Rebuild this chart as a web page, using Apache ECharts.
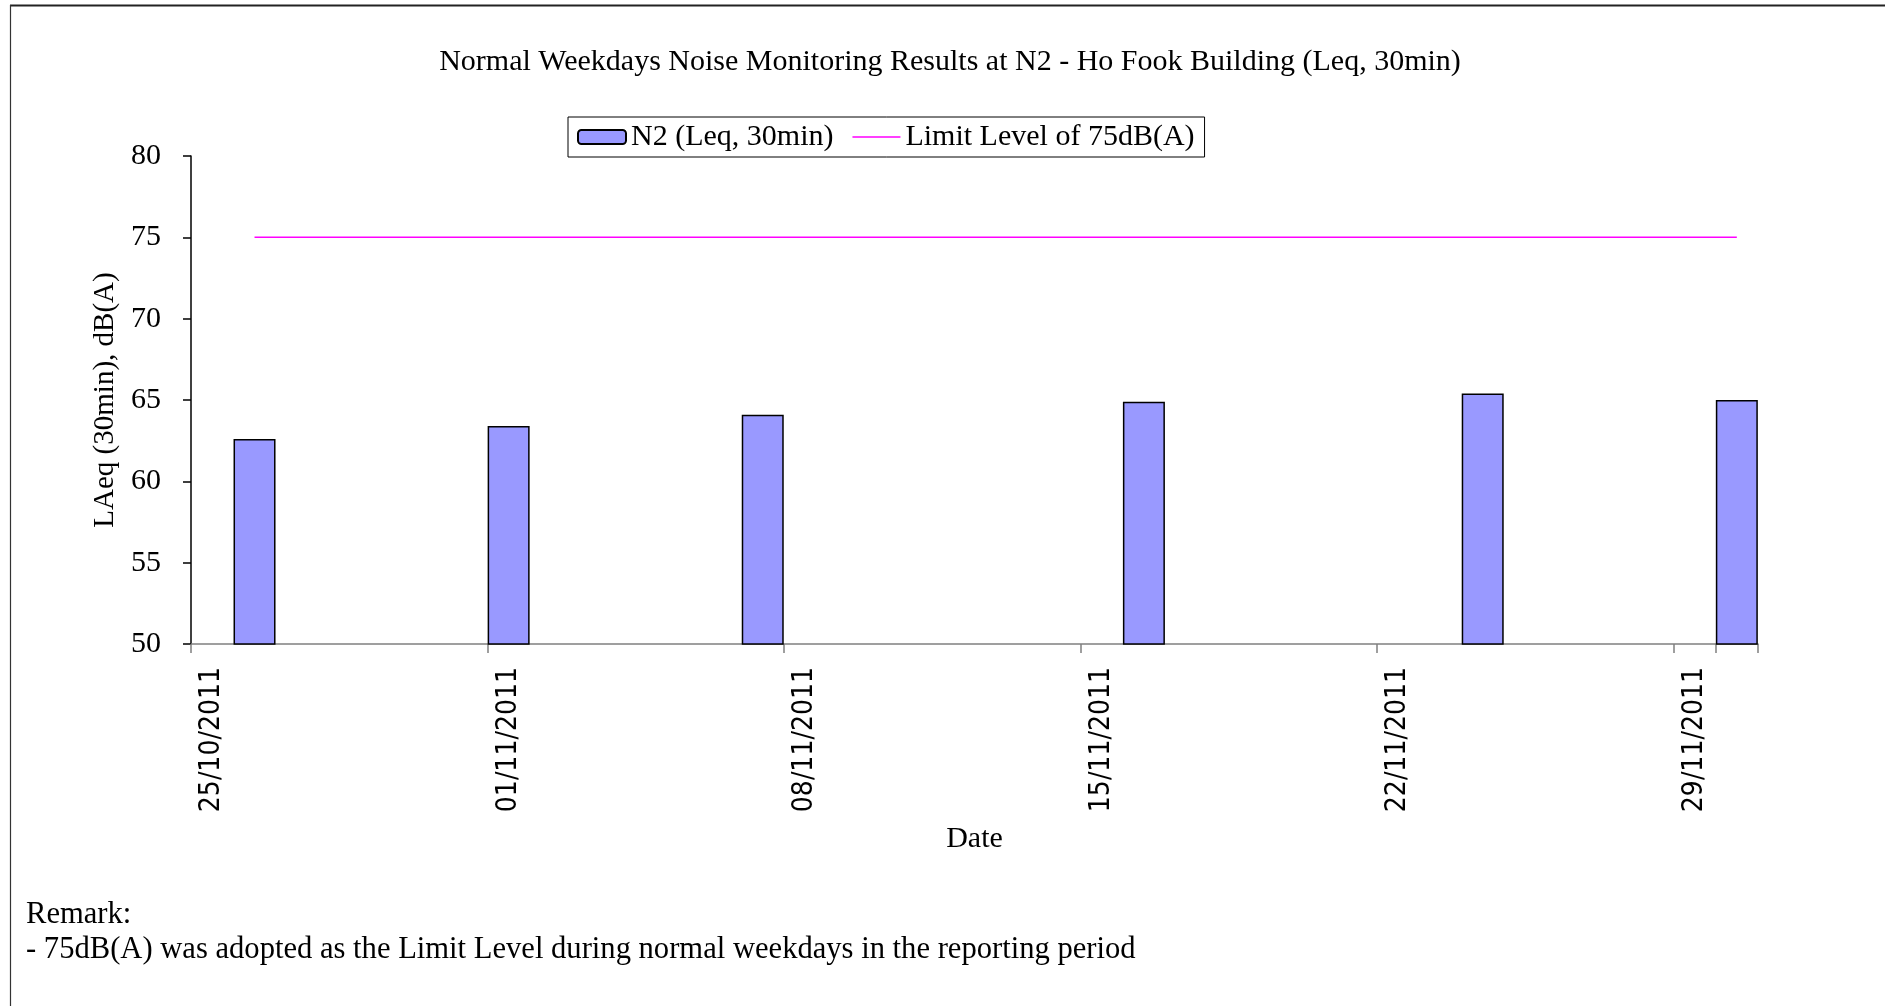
<!DOCTYPE html>
<html>
<head>
<meta charset="utf-8">
<script src="https://cdn.jsdelivr.net/npm/echarts@6/dist/echarts.min.js"></script>
<style>
html,body{margin:0;padding:0;background:#fff;}
#chart{width:1885px;height:1006px;}
</style>
</head>
<body>
<div id="chart"></div>
<script>
// ---- data ----
var titleText = 'Normal Weekdays Noise Monitoring Results at N2 - Ho Fook Building (Leq, 30min)';
var seriesBarName = 'N2 (Leq, 30min)';
var seriesLimitName = 'Limit Level of 75dB(A)';
var dates = ['26/10/2011', '01/11/2011', '07/11/2011', '16/11/2011', '24/11/2011', '30/11/2011'];
var values = [62.6, 63.4, 64.1, 64.9, 65.4, 65.0];
var limitValues = [75, 75, 75, 75, 75, 75];
var tickLabels = ['25/10/2011', '01/11/2011', '08/11/2011', '15/11/2011', '22/11/2011', '29/11/2011'];
var axisStart = [2011, 9, 25];   // 25/10/2011
var axisDays = 37;               // through 30/11/2011
var yTicks = [50, 55, 60, 65, 70, 75, 80];
var remarkLines = ['Remark:', '- 75dB(A) was adopted as the Limit Level during normal weekdays in the reporting period'];

// ---- build day categories for the date axis ----
function pad(n){ return (n < 10 ? '0' : '') + n; }
var dayCats = [];
for (var i = 0; i < axisDays; i++) {
  var d = new Date(axisStart[0], axisStart[1], axisStart[2] + i);
  dayCats.push(pad(d.getDate()) + '/' + pad(d.getMonth() + 1) + '/' + d.getFullYear());
}
var barData = dates.map(function (d, i) { return [d, values[i]]; });
var limitData = dates.map(function (d, i) { return [d, limitValues[i]]; });

var SERIF = "'Liberation Serif', 'Times New Roman', serif";
var SANS = "'DejaVu Sans Condensed', 'DejaVu Sans', sans-serif";
// thin horizontal line legend icon (tiny corner dots keep the 48x14 box)
var LINE_ICON = 'path://M0,0h0.01v0.01h-0.01Z M47.99,13.99h0.01v0.01h-0.01Z M0,6.25H48V7.75H0Z';

var chart = echarts.init(document.getElementById('chart'), null, {renderer: 'canvas'});
chart.setOption({
  animation: false,
  backgroundColor: '#ffffff',
  graphic: [
    {type: 'line', shape: {x1: 10, y1: 5.5, x2: 1885, y2: 5.5}, style: {stroke: '#222', lineWidth: 2}},
    {type: 'line', shape: {x1: 10.5, y1: 5, x2: 10.5, y2: 1006}, style: {stroke: '#333', lineWidth: 1.2}},
    {type: 'text', x: 950, y: 62, style: {text: titleText, font: '30px ' + SERIF, fill: '#000', align: 'center', verticalAlign: 'middle'}},
    {type: 'text', x: 26, y: 915, style: {text: remarkLines[0], font: '30.6px ' + SERIF, fill: '#000', align: 'left', verticalAlign: 'middle'}},
    {type: 'text', x: 26, y: 950, style: {text: remarkLines[1], font: '30.6px ' + SERIF, fill: '#000', align: 'left', verticalAlign: 'middle'}}
  ],
  legend: {
    left: 568, top: 117,
    orient: 'horizontal',
    padding: [5, 10, 5, 9],
    borderColor: '#000', borderWidth: 1,
    backgroundColor: '#fff',
    itemGap: 19, itemWidth: 48, itemHeight: 14,
    textStyle: {fontFamily: SERIF, fontSize: 30, color: '#000'},
    data: [
      {name: seriesBarName},
      {name: seriesLimitName, icon: LINE_ICON}
    ]
  },
  grid: {left: 191, right: 127, top: 156, bottom: 362, containLabel: false},
  xAxis: {
    type: 'category',
    data: dayCats,
    boundaryGap: true,
    name: 'Date',
    nameLocation: 'middle',
    nameGap: 180,
    nameTextStyle: {fontFamily: SERIF, fontSize: 30, color: '#000'},
    axisLine: {lineStyle: {color: '#808080', width: 1.5}},
    axisTick: {show: true, interval: 6, length: 9, lineStyle: {color: '#808080', width: 1.5}},
    axisLabel: {
      interval: 0, rotate: 90, margin: 23,
      fontFamily: SANS, fontSize: 28, color: '#000',
      formatter: function (v) { return tickLabels.indexOf(v) >= 0 ? v : ''; }
    },
    splitLine: {show: false}
  },
  yAxis: {
    type: 'value',
    min: yTicks[0], max: yTicks[yTicks.length - 1], interval: 5,
    name: 'LAeq (30min), dB(A)',
    nameLocation: 'middle',
    nameGap: 64,
    nameTextStyle: {fontFamily: SERIF, fontSize: 29, color: '#000'},
    axisLine: {show: true, lineStyle: {color: '#000', width: 1.5}},
    axisTick: {show: true, length: 8, lineStyle: {color: '#000', width: 1.5}},
    axisLabel: {margin: 30, fontFamily: SERIF, fontSize: 30, color: '#000'},
    splitLine: {show: false}
  },
  series: [
    {
      name: seriesBarName,
      type: 'bar',
      data: barData,
      barWidth: 42,
      itemStyle: {color: '#9999FF', borderColor: '#000', borderWidth: 1.5}
    },
    {
      name: seriesLimitName,
      type: 'line',
      data: limitData,
      symbol: 'none',
      lineStyle: {color: '#FF00FF', width: 1.5},
      itemStyle: {color: '#FF00FF'}
    }
  ]
});
</script>
</body>
</html>
